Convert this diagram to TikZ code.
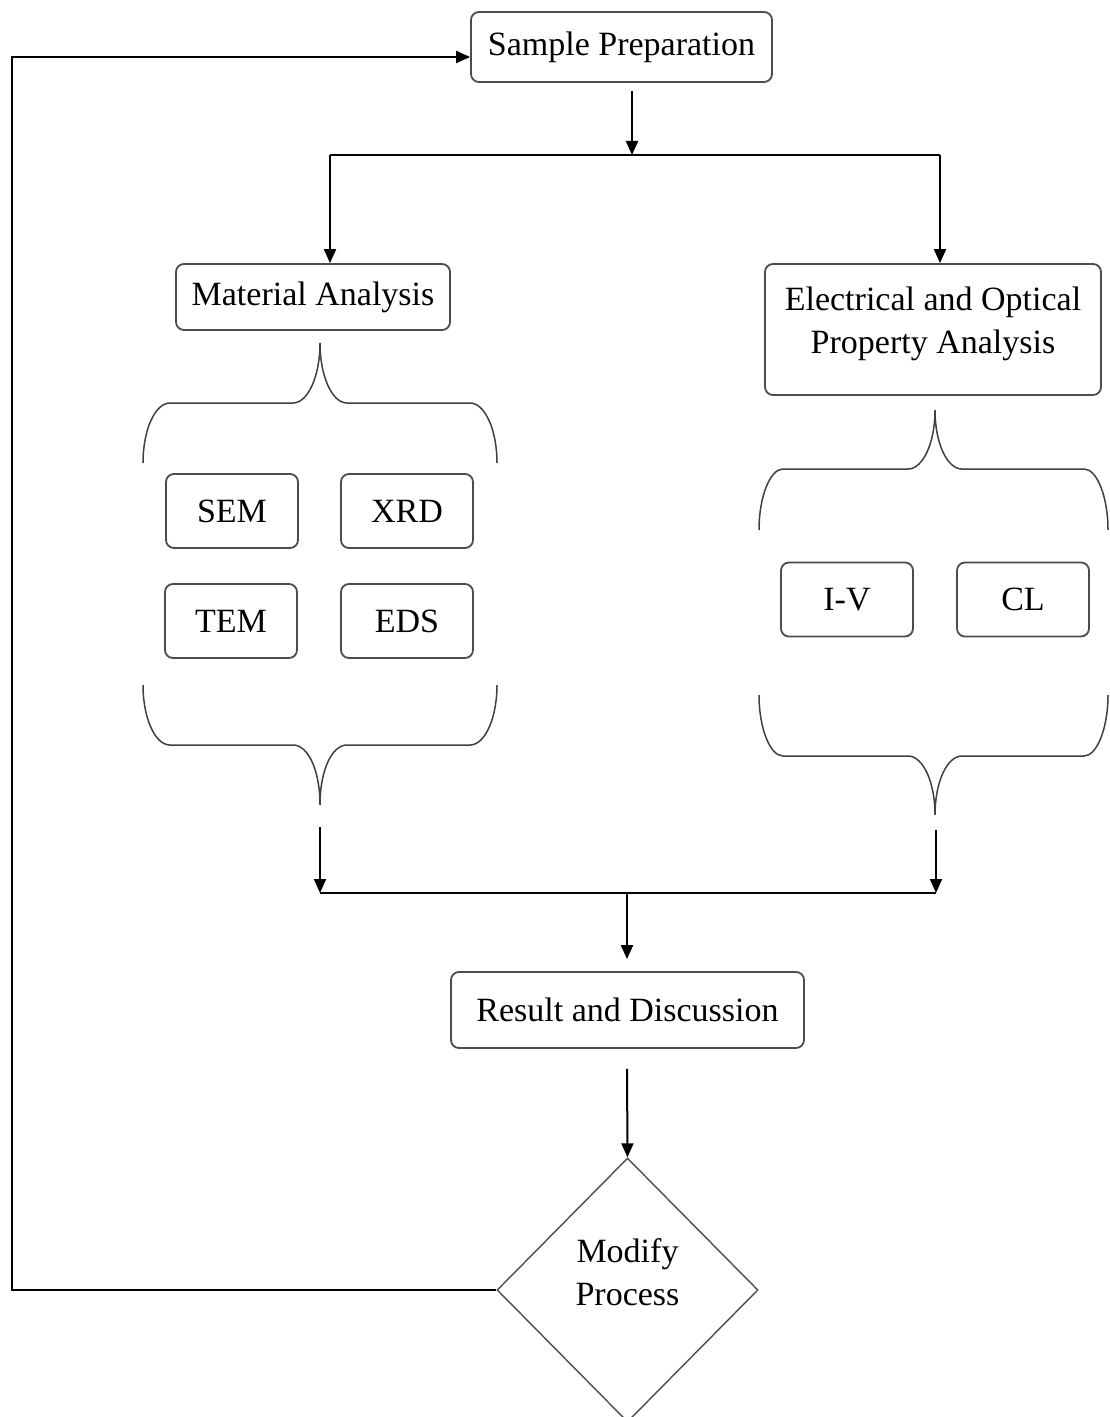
\documentclass[tikz,border=0pt]{standalone}
\usepackage{fontspec}
\setmainfont{Liberation Serif}
\usetikzlibrary{arrows.meta,shapes.geometric}

\begin{document}
\begin{tikzpicture}[x=0.5pt, y=-0.5pt,
    every node/.style={font=\fontsize{17pt}{21.5pt}\selectfont},
    box/.style={draw=black!70, line width=0.9pt, rounded corners=4pt, align=center, inner sep=2pt},
    tech/.style={box, minimum width=66pt, minimum height=37pt},
    arr/.style={line width=1pt, -{Triangle[length=7pt, width=6pt]}},
    brace/.style={draw=black!75, line width=0.75pt}]
    \useasboundingbox (0,0) rectangle (1109,1417);

    % Main steps
    \node[box, minimum width=150.5pt, minimum height=35pt] (prep) at (621.5,47) {Sample Preparation};
    \node[box, minimum width=137pt, minimum height=33pt] (mat) at (313,297) {Material Analysis};
    \node[box, minimum width=168pt, minimum height=65.5pt,
          label={[yshift=3pt, align=center]center:{Electrical and Optical\\Property Analysis}}] (ele) at (933,329.5) {};
    \node[box, minimum width=176.5pt, minimum height=38pt] (res) at (627.5,1010) {Result and Discussion};
    \node[draw=black!70, line width=0.7pt, diamond, inner sep=0pt,
          minimum width=130.5pt, minimum height=132pt,
          label={[yshift=9pt, align=center]center:{Modify\\Process}}] (mod) at (627.5,1290) {};

    % Techniques
    \node[tech] (sem) at (232,511) {SEM};
    \node[tech] (xrd) at (407,511) {XRD};
    \node[tech] (tem) at (231,621) {TEM};
    \node[tech] (eds) at (407,621) {EDS};
    \node[tech] (iv) at (847,599.5) {I-V};
    \node[tech] (cl) at (1023,599.5) {CL};

    % Braces round the techniques
    \draw[brace] (143,463) .. controls (143,430) and (155,403) .. (170,403) -- (293,403)
        .. controls (308,403) and (320,376) .. (320,343)
        .. controls (320,376) and (332,403) .. (347,403) -- (470,403)
        .. controls (485,403) and (497,430) .. (497,463);
    \draw[brace] (143,685) .. controls (143,718) and (155,745) .. (170,745) -- (293,745)
        .. controls (308,745) and (320,770) .. (320,805)
        .. controls (320,770) and (332,745) .. (347,745) -- (470,745)
        .. controls (485,745) and (497,718) .. (497,685);
    \draw[brace] (759,530) .. controls (759,497) and (770,469) .. (783,469) -- (908,469)
        .. controls (923,469) and (935,443) .. (935,410)
        .. controls (935,443) and (947,469) .. (962,469) -- (1084,469)
        .. controls (1097,469) and (1108,497) .. (1108,530);
    \draw[brace] (759,695) .. controls (759,728) and (770,756) .. (783,756) -- (908,756)
        .. controls (923,756) and (935,782) .. (935,815)
        .. controls (935,782) and (947,756) .. (962,756) -- (1084,756)
        .. controls (1097,756) and (1108,728) .. (1108,695);
    \coordinate (mtip) at (320,805);
    \coordinate (etip) at (936,815);

    % Split after preparation
    \coordinate (split) at (632,155);
    \coordinate (mjoin) at (330,155);
    \coordinate (ejoin) at (940,155);
    \draw[arr] ([yshift=-4pt]prep.south -| split) -- (split);
    \draw[line width=1pt] (mjoin) -- (ejoin);
    \draw[arr] (mjoin) -- (mjoin |- mat.north);
    \draw[arr] (ejoin) -- (ejoin |- ele.north);

    % Merge into results
    \coordinate (lcol) at (320,893);
    \coordinate (rcol) at (936,893);
    \coordinate (merge) at (627,893);
    \draw[arr] ([yshift=-11pt]mtip) -- (lcol);
    \draw[arr] ([yshift=-7.5pt]etip) -- (rcol);
    \draw[line width=1pt] (lcol) -- (rcol);
    \draw[arr] (merge) -- ([yshift=6pt]res.north -| merge);
    \draw[arr] ([yshift=-10pt]res.south -| merge) -- (mod.north);

    % Feedback loop
    \coordinate (loopbot) at (12,1290);
    \coordinate (looptop) at (12,57);
    \draw[arr] (mod.west) -- (loopbot) -- (looptop) -- (looptop -| prep.west);
\end{tikzpicture}
\end{document}
